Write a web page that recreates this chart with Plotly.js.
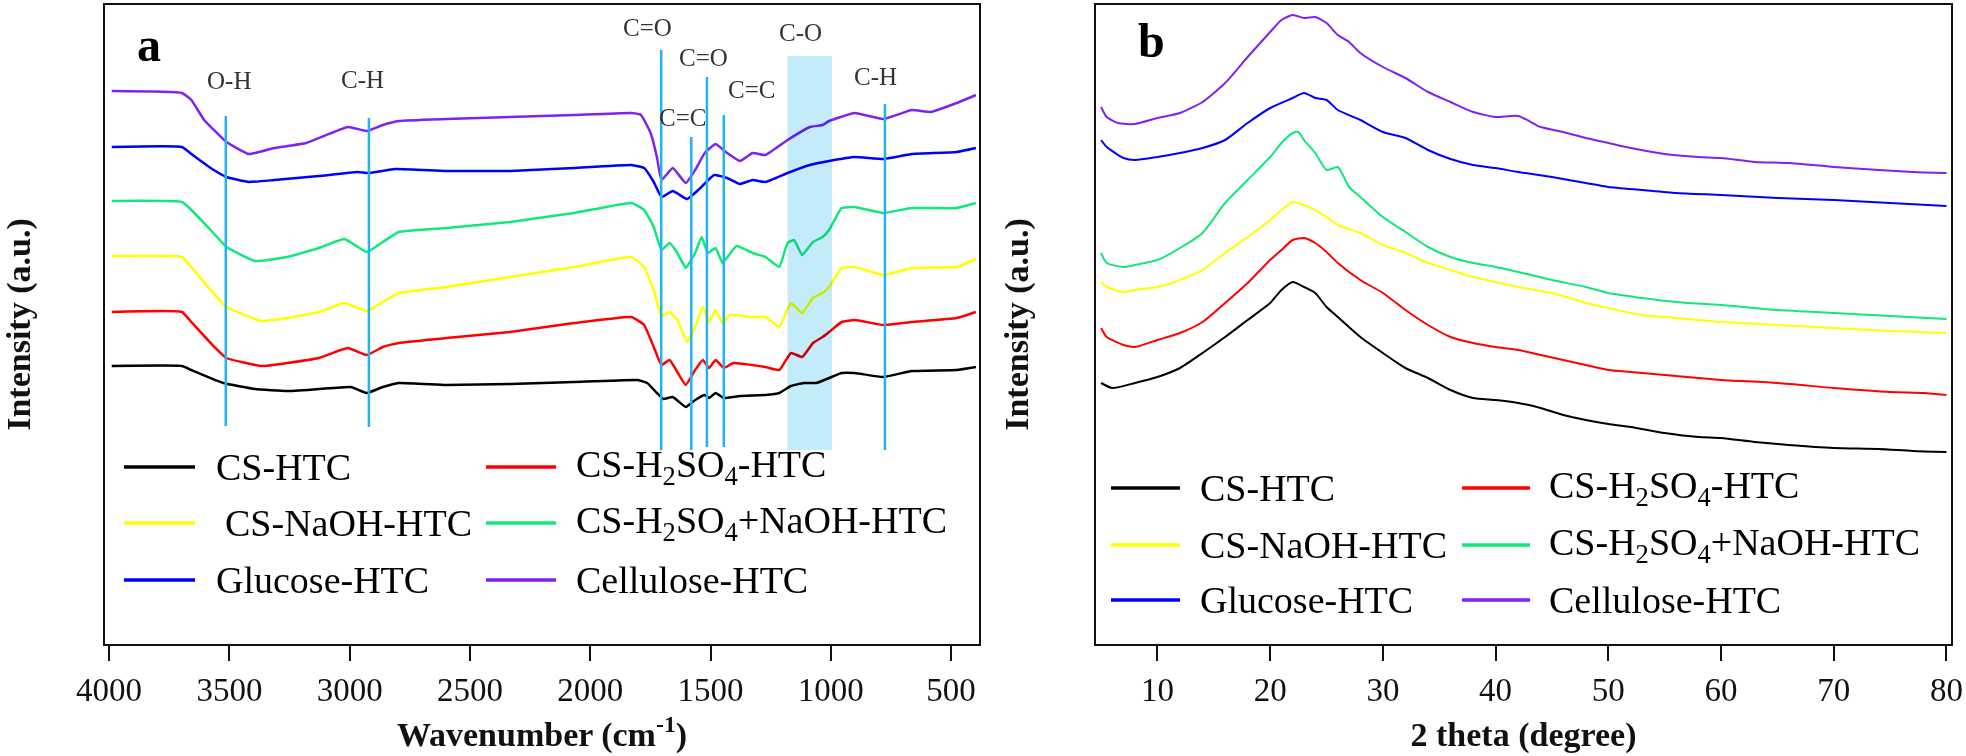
<!DOCTYPE html>
<html>
<head>
<meta charset="utf-8">
<script src="https://cdn.plot.ly/plotly-3.0.1.min.js"></script>
<style>html,body{margin:0;padding:0;background:#fff;}#chart{width:1966px;height:756px;}</style>
</head>
<body>
<div id="chart"></div>
<script>
// ---------- Series names ----------
const seriesNames = ['CS-HTC', 'CS-H<sub>2</sub>SO<sub>4</sub>-HTC', 'CS-NaOH-HTC',
  'CS-H<sub>2</sub>SO<sub>4</sub>+NaOH-HTC', 'Glucose-HTC', 'Cellulose-HTC'];
const seriesColors = ['#000000', '#ff0000', '#ffff00', '#12e87a', '#0000ff', '#7f22f0'];

// ---------- Panel a: FTIR (wavenumber, intensity a.u.) ----------
const ftirCS_wn = [3989,3697,3658,3525,3393,3260,3128,2995,2929,2862,2796,2598,2333,2067,1802,1763,1723,1696,1657,1603,1564,1524,1506,1479,1445,1378,1272,1214,1166,1113,1060,1007,955,901,782,663,477,397];
const ftirCS_val = [278,278,274,261,255,253,255,257,251,257,261,259,260,262,264,261,251,245,247,237,244,249,246,251,246,248,249,251,258,261,261,266,271,271,267,273,274,277];

const ftirH2SO4_wn = [3989,3697,3658,3578,3512,3366,3260,3128,3008,2929,2862,2796,2598,2333,2067,1829,1776,1736,1704,1670,1603,1564,1532,1506,1479,1445,1405,1272,1214,1166,1119,1074,1034,1007,955,901,782,663,477,397];
const ftirH2SO4_val = [332,332,322,301,286,278,281,286,296,289,297,301,306,312,321,327,319,297,279,284,259,274,284,276,284,276,281,277,274,291,287,301,307,312,322,324,319,322,326,332];

const ftirNaOH_wn = [3989,3697,3658,3578,3512,3366,3260,3128,3022,2929,2862,2796,2598,2333,2067,1829,1776,1736,1704,1670,1638,1598,1564,1532,1506,1479,1450,1418,1325,1272,1214,1166,1119,1074,1034,1007,955,901,782,663,477,397];
const ftirNaOH_val = [388,387,377,354,337,323,326,332,341,333,342,351,357,367,377,387,377,354,328,332,324,302,317,337,322,334,321,329,327,327,317,341,331,346,351,357,376,377,369,376,377,385];

const ftirMix_wn = [3989,3697,3658,3578,3512,3393,3260,3128,3022,2929,2862,2796,2598,2333,2067,1829,1776,1736,1704,1670,1638,1603,1564,1537,1511,1479,1450,1392,1325,1272,1214,1180,1153,1119,1074,1034,1007,955,901,782,663,477,397];
const ftirMix_val = [443,442,434,414,397,383,387,396,405,392,402,412,416,422,431,441,434,417,394,401,391,376,391,407,391,396,381,398,391,387,377,401,404,389,402,407,414,436,437,431,436,436,441];

const ftirGlucose_wn = [3989,3697,3658,3578,3512,3419,3313,3128,2969,2921,2810,2598,2333,2067,1829,1776,1736,1704,1657,1598,1551,1485,1431,1378,1325,1272,1180,1087,1007,901,782,663,477,397];
const ftirGlucose_val = [497,497,490,476,467,462,464,468,472,471,475,473,473,476,479,476,462,447,453,445,454,469,466,460,464,462,471,479,483,487,485,490,492,496];

const ftirCellulose_wn = [3989,3697,3658,3605,3512,3419,3313,3181,3008,2929,2862,2796,2598,2333,2067,1829,1789,1749,1723,1704,1657,1603,1564,1524,1479,1431,1378,1325,1272,1180,1087,1034,1007,901,782,663,584,477,397];
const ftirCellulose_val = [553,551,544,524,502,490,496,501,517,513,519,523,525,527,529,531,529,511,487,464,476,461,474,491,500,491,483,491,489,504,517,519,523,531,525,534,532,541,549];

// Band assignments (cm-1)
const peakLines = [3515, 2920, 1705, 1580, 1515, 1445, 775];
const peakBand = [1180, 995];
const peakLabels = ['O-H', 'C-H', 'C=O', 'C=C', 'C=O', 'C=C', 'C-O', 'C-H'];
const ftirTicks = [4000, 3500, 3000, 2500, 2000, 1500, 1000, 500];

// ---------- Panel b: XRD (2 theta, intensity a.u.) ----------
const xrdCS_t = [5,6,8,10,12,14,16,18,20,21,22,23,24,25,26,28,30,32,34,36,38,40,42,44,46,48,50,52,55,58,60,63,66,70,74,77,80];
const xrdCS_val = [261,256,261,267,276,291,307,324,341,354,362,357,351,337,327,307,291,276,266,254,246,244,241,236,229,224,220,217,211,207,206,202,199,196,195,193,192];

const xrdH2SO4_t = [5,5.5,7,8,10,12,14,16,18,20,21,22,23,24,25,26,28,30,32,34,36,38,40,42,44,46,48,50,52,55,58,60,65,70,75,78,80];
const xrdH2SO4_val = [316,307,299,297,304,311,322,341,361,384,394,404,406,401,392,381,364,351,334,319,307,301,297,294,289,284,279,274,272,269,266,264,261,256,252,251,249];

const xrdNaOH_t = [5,5.5,7,8,10,12,14,16,18,20,21,22,23,24,25,26,28,30,32,34,36,38,40,42,45,48,50,53,56,60,65,70,75,80];
const xrdNaOH_val = [362,357,352,354,357,364,374,391,407,424,434,442,439,434,427,419,411,399,391,381,374,367,362,357,351,341,336,329,326,322,319,316,313,311];

const xrdMix_t = [5,5.5,7,8,10,12,14,16,18,20,21,22,22.5,23,24,25,26,27,28,30,32,34,36,38,40,42,45,48,50,53,56,60,65,70,75,80];
const xrdMix_val = [391,381,377,379,384,396,411,441,464,487,501,511,512,504,491,474,477,457,447,427,412,397,387,381,377,372,364,357,351,346,342,339,334,331,328,325];

const xrdGlucose_t = [5,5.5,7,8,10,12,14,16,18,20,22,23,24,25,26,28,30,32,34,36,38,40,42,45,48,50,53,56,60,65,70,75,80];
const xrdGlucose_val = [504,497,486,484,487,491,496,504,521,536,546,551,546,544,534,524,512,506,494,485,479,476,472,467,461,457,454,451,449,446,444,441,438];

const xrdCellulose_t = [5,5.5,6.5,8,10,12,14,16,18,20,21,22,23,24,25,26,27,28,30,32,34,36,38,40,42,44,46,48,50,52,55,58,60,63,66,70,74,77,80];
const xrdCellulose_val = [537,527,521,520,526,531,542,561,587,612,624,629,626,627,621,609,602,591,577,566,552,542,532,527,528,517,512,506,501,496,490,487,486,482,481,477,474,472,471];
const xrdTicks = [10, 20, 30, 40, 50, 60, 70, 80];

// ---------- Build traces ----------
const ftirX = [ftirCS_wn, ftirH2SO4_wn, ftirNaOH_wn, ftirMix_wn, ftirGlucose_wn, ftirCellulose_wn];
const ftirY = [ftirCS_val, ftirH2SO4_val, ftirNaOH_val, ftirMix_val, ftirGlucose_val, ftirCellulose_val];
const xrdX = [xrdCS_t, xrdH2SO4_t, xrdNaOH_t, xrdMix_t, xrdGlucose_t, xrdCellulose_t];
const xrdY = [xrdCS_val, xrdH2SO4_val, xrdNaOH_val, xrdMix_val, xrdGlucose_val, xrdCellulose_val];

const traces = [];
for (let i = 0; i < seriesNames.length; i++) {
  traces.push({type:'scatter', mode:'lines', name: seriesNames[i], x: ftirX[i], y: ftirY[i],
    xaxis:'x', yaxis:'y', line:{color: seriesColors[i], width: 2.5, shape:'spline', smoothing:0.35},
    showlegend:false, hoverinfo:'skip'});
}
for (let i = 0; i < seriesNames.length; i++) {
  traces.push({type:'scatter', mode:'lines', name: seriesNames[i], x: xrdX[i], y: xrdY[i],
    xaxis:'x2', yaxis:'y2', line:{color: seriesColors[i], width: 2, shape:'spline', smoothing:0.6},
    showlegend:false, hoverinfo:'skip'});
}

// ---------- Styling ----------
const SERIF = 'Liberation Serif';
const lineBlue = '#22b4ec';
const shapes = [];
const annotations = [];

// band + peak lines (panel a)
shapes.push({type:'rect', xref:'x', yref:'y', x0: peakBand[0], x1: peakBand[1], y0: 194, y1: 588,
  fillcolor:'#c4ebf9', line:{width:0}, layer:'above'});
const lineTops = [528, 526, 594, 507, 567, 529, 540];
const lineBots = [218, 217, 194, 194, 197, 197, 194];
peakLines.forEach((wn, i) => {
  shapes.push({type:'line', xref:'x', yref:'y', x0: wn, x1: wn, y0: lineBots[i], y1: lineTops[i],
    line:{color: lineBlue, width: 2.5}});
});
const labelPos = [[3501,564],[2948,565],[1760,617],[1618,527],[1531,587],[1328,555],[1128,612],[816,568]];
peakLabels.forEach((t, i) => {
  annotations.push({xref:'x', yref:'y', x: labelPos[i][0], y: labelPos[i][1], text: t, showarrow:false,
    xanchor:'center', yanchor:'middle', font:{family: SERIF, size: 25, color:'#333'}});
});
annotations.push({xref:'x', yref:'y', x: 3834, y: 600, text: 'a', showarrow:false, xanchor:'center', yanchor:'middle',
  font:{family: SERIF, size: 48, color:'#000', weight:'bold'}});
annotations.push({xref:'x2', yref:'y2', x: 9.47, y: 604, text: 'b', showarrow:false, xanchor:'center', yanchor:'middle',
  font:{family: SERIF, size: 48, color:'#000', weight:'bold'}});

// legends (two columns, three rows) drawn in each panel
function addLegend(xr, yr, rows, col1, col2) {
  const order = [[0,1],[2,3],[4,5]];
  order.forEach((pair, r) => {
    [col1, col2].forEach((col, c) => {
      const idx = pair[c];
      shapes.push({type:'line', xref: xr, yref: yr, x0: col[0], x1: col[1], y0: rows[r], y1: rows[r],
        line:{color: seriesColors[idx], width: 3.5}});
      let tx = col[2];
      if (xr === 'x domain' && idx === 2) tx += 0.0103;
      annotations.push({xref: xr, yref: yr, x: tx, y: rows[r], text: seriesNames[idx], showarrow:false,
        xanchor:'left', yanchor:'middle', font:{family: SERIF, size: 38, color:'#000'}});
    });
  });
}
addLegend('x domain', 'y domain', [0.2770, 0.1894, 0.1002], [0.0217, 0.1030, 0.1247], [0.4359, 0.5160, 0.5366]);
addLegend('x2 domain', 'y2 domain', [0.2441, 0.1549, 0.0689], [0.0175, 0.0982, 0.1193], [0.4281, 0.5076, 0.5275]);

const axisCommon = {
  showline:true, mirror:true, linewidth:2.2, linecolor:'#111', showgrid:false, zeroline:false,
};
const xCommon = Object.assign({}, axisCommon, {
  ticks:'outside', ticklen:15, tickwidth:2, tickcolor:'#111',
  tickfont:{family: SERIF, size: 33, color:'#111'}
});
const yCommon = Object.assign({}, axisCommon, {
  showticklabels:false, ticks:'', range:[0, 639], domain:[0, 1]
});
const titleFont = {family: SERIF, size: 34, color:'#111', weight:'bold'};

const layout = {
  width: 1966, height: 756,
  margin: {l:105, r:15, t:5, b:112, pad:0},
  paper_bgcolor:'#ffffff', plot_bgcolor:'#ffffff',
  showlegend:false,
  font:{family: SERIF, size: 33, color:'#111'},
  xaxis: Object.assign({}, xCommon, {domain:[0, 0.47346], range:[4017, 384], tickvals: ftirTicks,
    anchor:'y', title:{text:'Wavenumber (cm<sup>-1</sup>)', font: titleFont, standoff: 16}}),
  yaxis: Object.assign({}, yCommon, {anchor:'x', title:{text:'Intensity (a.u.)', font: titleFont, standoff: 64}}),
  xaxis2: Object.assign({}, xCommon, {domain:[0.53684, 1], range:[4.55, 80.4], tickvals: xrdTicks,
    anchor:'y2', title:{text:'2 theta (degree)', font: titleFont, standoff: 16}}),
  yaxis2: Object.assign({}, yCommon, {anchor:'x2', title:{text:'Intensity (a.u.)', font: titleFont, standoff: 55}}),
  shapes: shapes,
  annotations: annotations
};

Plotly.newPlot('chart', traces, layout, {staticPlot:true, displayModeBar:false}).then(function (gd) {
  // the C-O band tints the spectra beneath it (multiply blend), as in the original figure
  const els = gd.querySelectorAll('.layer-above .shapelayer [data-index="0"]');
  els.forEach(function (el) {
    el.style.mixBlendMode = 'multiply';
    el.querySelectorAll && el.querySelectorAll('path').forEach(function (p) { p.style.mixBlendMode = 'multiply'; });
  });
});
</script>
</body>
</html>
